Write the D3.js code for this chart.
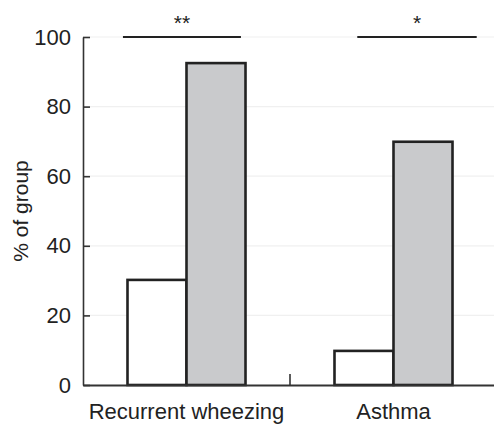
<!DOCTYPE html>
<html>
<head>
<meta charset="utf-8">
<script src="https://cdn.jsdelivr.net/npm/d3@7"></script>
<style>
  html, body { margin: 0; padding: 0; background: #fff; }
  svg { display: block; font-family: "Liberation Sans", Arial, Helvetica, sans-serif; }
</style>
</head>
<body>
<svg id="chart" width="494" height="425"></svg>
<script>
// ---- data ----
const categories = ["Recurrent wheezing", "Asthma"];
const seriesNames = ["Group A", "Group B"];
const groupA = [30.2, 9.8];
const groupB = [92.5, 69.9];
const yTicks = [0, 20, 40, 60, 80, 100];
const sigLabels = ["**", "*"];
const yLabel = "% of group";

(function () {
// ---- layout ----
const W = 494, H = 425;
const mLeft = 83, mRight = 497, mTop = 37, mBottom = 385;
const svg = d3.select("#chart");

const x = d3.scaleBand().domain(categories).range([mLeft, mRight]).padding(0);
const xs = d3.scaleBand().domain(seriesNames).range([0, x.bandwidth()]).paddingInner(0).paddingOuter(0.754);
const y = d3.scaleLinear().domain([0, 100]).range([mBottom, mTop]);

const fills = { "Group A": "#ffffff", "Group B": "#c9cacc" };

// gridlines
svg.append("g").selectAll("line").data(yTicks.filter(d => d > 0)).join("line")
  .attr("x1", mLeft).attr("x2", W).attr("y1", d => y(d)).attr("y2", d => y(d))
  .attr("stroke", "#f0f0f0").attr("stroke-width", 1.2);

// bars
const rows = categories.map((c, i) => ({ cat: c, vals: [
  { s: seriesNames[0], v: groupA[i] }, { s: seriesNames[1], v: groupB[i] } ] }));
const g = svg.append("g").selectAll("g").data(rows).join("g")
  .attr("transform", d => `translate(${x(d.cat)},0)`);
g.selectAll("rect").data(d => d.vals).join("rect")
  .attr("x", d => xs(d.s)).attr("width", xs.bandwidth())
  .attr("y", d => y(d.v)).attr("height", d => y(0) - y(d.v))
  .attr("fill", d => fills[d.s]).attr("stroke", "#222").attr("stroke-width", 2.6);

// y axis
const yAxis = d3.axisLeft(y).tickValues(yTicks).tickSizeInner(-7).tickSizeOuter(0).tickPadding(12);
const ya = svg.append("g").attr("transform", `translate(${mLeft},0)`).call(yAxis);
ya.select(".domain").attr("stroke", "#333").attr("stroke-width", 1.6);
ya.selectAll(".tick line").attr("stroke", "#333").attr("stroke-width", 1.6);
ya.selectAll(".tick text").attr("font-size", 22).attr("fill", "#222")
  .attr("font-family", "Liberation Sans, Arial, sans-serif");

// x axis
const xAxis = d3.axisBottom(x).tickSize(0).tickPadding(18);
const xa = svg.append("g").attr("transform", `translate(0,${mBottom})`).call(xAxis);
xa.select(".domain").attr("stroke", "#333").attr("stroke-width", 1.8);
xa.selectAll(".tick text").attr("font-size", 22).attr("fill", "#222")
  .attr("font-family", "Liberation Sans, Arial, sans-serif").attr("dy", "0.71em");
// separator tick between categories
svg.append("line")
  .attr("x1", x(categories[1])).attr("x2", x(categories[1]))
  .attr("y1", mBottom).attr("y2", mBottom - 11)
  .attr("stroke", "#333").attr("stroke-width", 1.6);

// y label
svg.append("text")
  .attr("transform", `translate(28,${(mTop + mBottom) / 2}) rotate(-90)`)
  .attr("text-anchor", "middle").attr("font-size", 21).attr("fill", "#222")
  .text(yLabel);

// significance lines
const sigSpan = [[0.193, 0.763], [0.325, 0.902]];
categories.forEach((c, i) => {
  const x0 = x(c) + sigSpan[i][0] * x.bandwidth();
  const x1 = x(c) + sigSpan[i][1] * x.bandwidth();
  svg.append("line").attr("x1", x0).attr("x2", x1)
    .attr("y1", y(100)).attr("y2", y(100))
    .attr("stroke", "#222").attr("stroke-width", 2.2);
  svg.append("text").attr("x", (x0 + x1) / 2).attr("y", 30)
    .attr("text-anchor", "middle").attr("font-size", 21).attr("fill", "#222")
    .text(sigLabels[i]);
});
})();
</script>
</body>
</html>
